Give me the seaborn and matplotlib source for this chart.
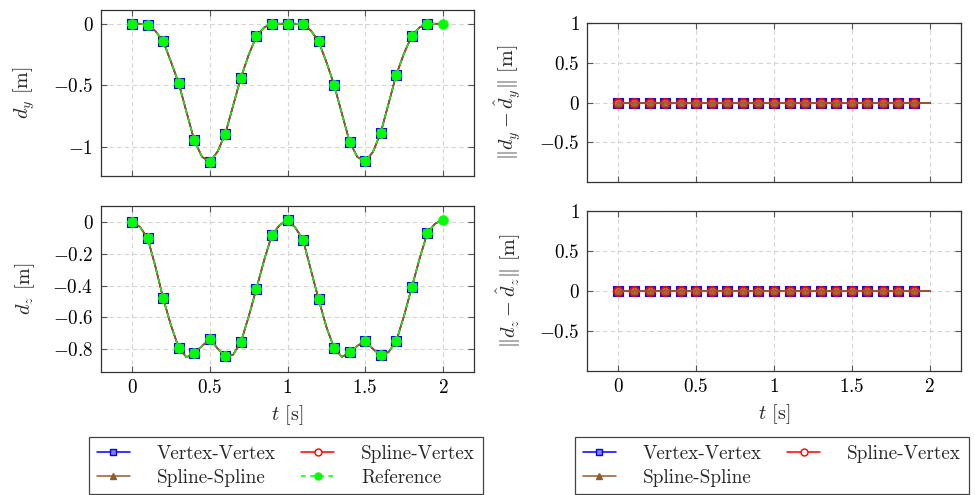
import numpy as np
import pandas as pd
import matplotlib
matplotlib.use("Agg")
import matplotlib.pyplot as plt
import seaborn as sns
from matplotlib.lines import Line2D
from matplotlib.ticker import FixedLocator, FuncFormatter

# ---------------- data ----------------
t = [0.00, 0.05, 0.10, 0.15, 0.20, 0.25, 0.30, 0.35, 0.40, 0.45,
     0.50, 0.55, 0.60, 0.65, 0.70, 0.75, 0.80, 0.85, 0.90, 0.95,
     1.00, 1.05, 1.10, 1.15, 1.20, 1.25, 1.30, 1.35, 1.40, 1.45,
     1.50, 1.55, 1.60, 1.65, 1.70, 1.75, 1.80, 1.85, 1.90, 1.95, 2.00]

d_y = [0.000, 0.000, -0.010, -0.059, -0.143, -0.308, -0.483, -0.716, -0.946, -1.080,
       -1.120, -1.038, -0.892, -0.665, -0.438, -0.254, -0.100, -0.030, 0.000, 0.000,
       0.000, 0.000, -0.005, -0.055, -0.143, -0.310, -0.497, -0.730, -0.959, -1.082,
       -1.117, -1.040, -0.884, -0.650, -0.414, -0.240, -0.100, -0.030, 0.000, 0.000, 0.000]

d_z = [0.000, -0.030, -0.101, -0.280, -0.481, -0.650, -0.792, -0.852, -0.827, -0.781,
       -0.739, -0.796, -0.846, -0.836, -0.758, -0.596, -0.420, -0.239, -0.080, -0.019,
       0.013, -0.035, -0.111, -0.300, -0.487, -0.660, -0.794, -0.850, -0.821, -0.780,
       -0.750, -0.800, -0.840, -0.820, -0.750, -0.590, -0.411, -0.230, -0.069, -0.010, 0.015]

err_y = [0.0] * 41
err_z = [0.0] * 41

labels = ["Vertex-Vertex", "Spline-Vertex", "Spline-Spline", "Reference"]
xticks = [0, 0.5, 1, 1.5, 2]
yticks_dy = [-1, -0.5, 0]
yticks_dz = [-0.8, -0.6, -0.4, -0.2, 0]
yticks_err = [-0.5, 0, 0.5, 1]

# ---------------- style ----------------
sns.set_theme(style="white")
plt.rcParams["font.family"] = ["cmr10", "DejaVu Serif"]
plt.rcParams["mathtext.fontset"] = "cm"
plt.rcParams["axes.unicode_minus"] = False
plt.rcParams["axes.formatter.use_mathtext"] = True

BLUE = "#0000ff"
RED = "#ff0000"
BROWN = "#8f5c30"
GREEN = "#00ff00"
FS = 13.8

fig = plt.figure(figsize=(9.75, 4.95), dpi=100)
W, H = 975.0, 495.0

def add_ax(x0, y0, x1, y1):
    return fig.add_axes([x0 / W, 1 - y1 / H, (x1 - x0) / W, (y1 - y0) / H])

ax_dy = add_ax(101, 10, 474, 175.7)
ax_dz = add_ax(101, 206, 474, 371.7)
ax_ey = add_ax(587.3, 23.3, 960.7, 181.7)
ax_ez = add_ax(587.3, 211, 960.7, 370.7)

fmt = FuncFormatter(lambda v, p: "$%g$" % v)
mark_idx = list(range(0, 39, 2))   # markers every 0.1 s up to 1.9 s
ref_idx = list(range(0, 41, 2))    # reference markers up to 2.0 s


def style_axis(ax, yticks, ylim, show_x):
    ax.set_xlim(-0.2, 2.2)
    ax.set_ylim(*ylim)
    ax.xaxis.set_major_locator(FixedLocator(xticks))
    ax.yaxis.set_major_locator(FixedLocator(yticks))
    ax.xaxis.set_major_formatter(fmt)
    ax.yaxis.set_major_formatter(fmt)
    ax.grid(True, linestyle=(0, (4, 3)), color="#d4d4d4", linewidth=0.8)
    ax.set_axisbelow(True)
    ax.tick_params(direction="in", length=4, width=0.8, colors="#555555",
                   top=True, right=True, bottom=True, left=True,
                   labelsize=FS, labelcolor="black", pad=5.5,
                   labelbottom=show_x)
    for s in ax.spines.values():
        s.set_color("#333333")
        s.set_linewidth(0.9)
    ax.set_xlabel("")
    ax.set_ylabel("")


def draw_traj(ax, vals):
    df = pd.DataFrame({"t": t, "v": vals})
    common = dict(data=df, x="t", y="v", ax=ax, errorbar=None, legend=False,
                  linewidth=1.1, markevery=mark_idx, sort=False)
    sns.lineplot(color=BLUE, marker="s", markersize=7, markerfacecolor="#7f7fff",
                 markeredgecolor=BLUE, markeredgewidth=0.8, zorder=3, **common)
    sns.lineplot(color=RED, marker="o", markersize=5.5, markerfacecolor="white",
                 markeredgecolor=RED, markeredgewidth=1.0, zorder=4, **common)
    sns.lineplot(color=BROWN, marker="^", markersize=4.5, markerfacecolor=BROWN,
                 markeredgecolor=BROWN, markeredgewidth=0.6, zorder=5, **common)
    common["markevery"] = ref_idx
    sns.lineplot(color=GREEN, linestyle=(0, (3, 3)), marker="o", markersize=7,
                 markerfacecolor=GREEN, markeredgecolor=GREEN, markeredgewidth=0.5,
                 zorder=6, **common)


def draw_err(ax, vals):
    df = pd.DataFrame({"t": t, "v": vals})
    common = dict(data=df, x="t", y="v", ax=ax, errorbar=None, legend=False,
                  linewidth=1.3, markevery=mark_idx, sort=False)
    sns.lineplot(color=BLUE, marker="s", markersize=7, markerfacecolor=BLUE,
                 markeredgecolor=BLUE, markeredgewidth=0.8, zorder=3, **common)
    sns.lineplot(color=RED, marker="o", markersize=6.5, markerfacecolor="#c07a40",
                 markeredgecolor=RED, markeredgewidth=1.4, zorder=4, **common)
    sns.lineplot(color=BROWN, marker="^", markersize=4.5, markerfacecolor="#a86a35",
                 markeredgecolor=BROWN, markeredgewidth=0.6, zorder=5, **common)


draw_traj(ax_dy, d_y)
draw_traj(ax_dz, d_z)
draw_err(ax_ey, err_y)
draw_err(ax_ez, err_z)

style_axis(ax_dy, yticks_dy, (-1.233, 0.111), False)
style_axis(ax_dz, yticks_dz, (-0.943, 0.101), True)
style_axis(ax_ey, yticks_err, (-1.0, 1.0), False)
style_axis(ax_ez, yticks_err, (-1.0, 1.0), True)

LFS = 14.5
ax_dy.set_ylabel(r"$d_y$ [m]", fontsize=LFS)
ax_dz.set_ylabel(r"$d_z$ [m]", fontsize=LFS)
ax_ey.set_ylabel(r"$\Vert d_y - \hat{d}_y\Vert$ [m]", fontsize=LFS)
ax_ez.set_ylabel(r"$\Vert d_z - \hat{d}_z\Vert$ [m]", fontsize=LFS)
for ax in (ax_dy, ax_dz, ax_ey, ax_ez):
    ax.yaxis.set_label_coords(-0.171, 0.5)
ax_dz.set_xlabel(r"$t$ [s]", fontsize=LFS)
ax_ez.set_xlabel(r"$t$ [s]", fontsize=LFS)
ax_dz.xaxis.set_label_coords(0.5, -0.19)
ax_ez.xaxis.set_label_coords(0.5, -0.2)

# ---------------- legends ----------------
h_vv = Line2D([], [], color=BLUE, lw=1.1, marker="s", markersize=5,
              markerfacecolor="#7f7fff", markeredgecolor=BLUE)
h_sv = Line2D([], [], color=RED, lw=1.1, marker="o", markersize=5,
              markerfacecolor="white", markeredgecolor=RED)
h_ss = Line2D([], [], color=BROWN, lw=1.1, marker="^", markersize=5,
              markerfacecolor=BROWN, markeredgecolor=BROWN)
h_ref = Line2D([], [], color=GREEN, lw=1.1, linestyle=(0, (3, 3)), marker="o",
               markersize=5, markerfacecolor=GREEN, markeredgecolor=GREEN)

leg_kw = dict(loc="upper left", ncol=2, frameon=True, fancybox=False,
              edgecolor="#444444", framealpha=1, borderaxespad=0,
              handlelength=1.72, handletextpad=1.4, columnspacing=1.35,
              labelspacing=0.32, borderpad=0.4, fontsize=FS)
leg1 = fig.legend([h_vv, h_ss, h_sv, h_ref],
                  [labels[0], labels[2], labels[1], labels[3]],
                  bbox_to_anchor=(89 / W, 1 - 437 / H), **leg_kw)
leg1.get_frame().set_linewidth(0.9)
leg2 = fig.legend([h_vv, h_ss, h_sv],
                  [labels[0], labels[2], labels[1]],
                  bbox_to_anchor=(575 / W, 1 - 437 / H), **leg_kw)
leg2.get_frame().set_linewidth(0.9)

fig.savefig("out.png", dpi=100)
